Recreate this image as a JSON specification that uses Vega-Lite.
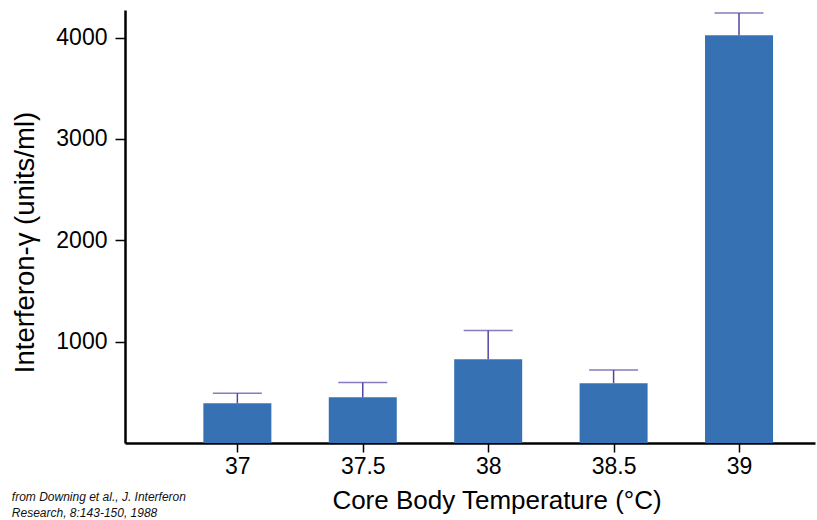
{
  "$schema": "https://vega.github.io/schema/vega-lite/v6.json",
  "width": 690,
  "height": 433,
  "autosize": {"type": "none"},
  "padding": {"left": 125, "top": 10, "right": 2, "bottom": 77},
  "background": "white",
  "title": {
    "text": ["from Downing et al., J. Interferon", "Research, 8:143-150, 1988"],
    "orient": "bottom",
    "anchor": "start",
    "frame": "bounds",
    "fontSize": 12,
    "fontStyle": "italic",
    "fontWeight": "normal",
    "font": "Liberation Sans",
    "color": "#111111",
    "lineHeight": 16,
    "offset": -21
  },
  "config": {
    "font": "Liberation Sans",
    "view": {"stroke": null},
    "axis": {"grid": false, "domainColor": "black", "tickColor": "black", "labelColor": "black", "titleColor": "black", "titleFontWeight": "normal"}
  },
  "data": {
    "values": [
      {"temp": 37, "value": 392, "upper": 491},
      {"temp": 37.5, "value": 451, "upper": 596},
      {"temp": 38, "value": 827, "upper": 1110},
      {"temp": 38.5, "value": 590, "upper": 721},
      {"temp": 39, "value": 4022, "upper": 4242}
    ]
  },
  "encoding": {
    "x": {
      "field": "temp",
      "type": "quantitative",
      "scale": {"domain": [36.572, 39.283], "nice": false, "zero": false},
      "axis": {
        "values": [37, 37.5, 38, 38.5, 39],
        "format": "~f",
        "title": "Core Body Temperature (°C)",
        "domainWidth": 2.5,
        "tickWidth": 1.5,
        "tickSize": 9,
        "labelFontSize": 23,
        "labelPadding": 3,
        "titleFontSize": 26,
        "titlePadding": 9,
        "titleX": 371.5
      }
    }
  },
  "layer": [
    {
      "mark": {"type": "bar", "width": 68, "color": "#3672b3"},
      "encoding": {
        "y": {
          "field": "value",
          "type": "quantitative",
          "scale": {"domain": [0, 4272], "nice": false},
          "axis": {
            "values": [1000, 2000, 3000, 4000],
            "format": "d",
            "title": "Interferon-γ (units/ml)",
            "domainWidth": 2.5,
            "tickWidth": 1.5,
            "tickSize": 10,
            "labelFontSize": 23,
            "labelPadding": 8,
            "titleFontSize": 27.5,
            "titlePadding": 16,
            "titleY": 232
          }
        }
      }
    },
    {
      "mark": {"type": "rule", "color": "#5046a3", "strokeWidth": 1.5},
      "encoding": {
        "y": {"field": "value", "type": "quantitative"},
        "y2": {"field": "upper"}
      }
    },
    {
      "mark": {"type": "tick", "orient": "horizontal", "color": "#5046a3", "thickness": 1.5, "size": 49},
      "encoding": {
        "y": {"field": "upper", "type": "quantitative"}
      }
    }
  ]
}
